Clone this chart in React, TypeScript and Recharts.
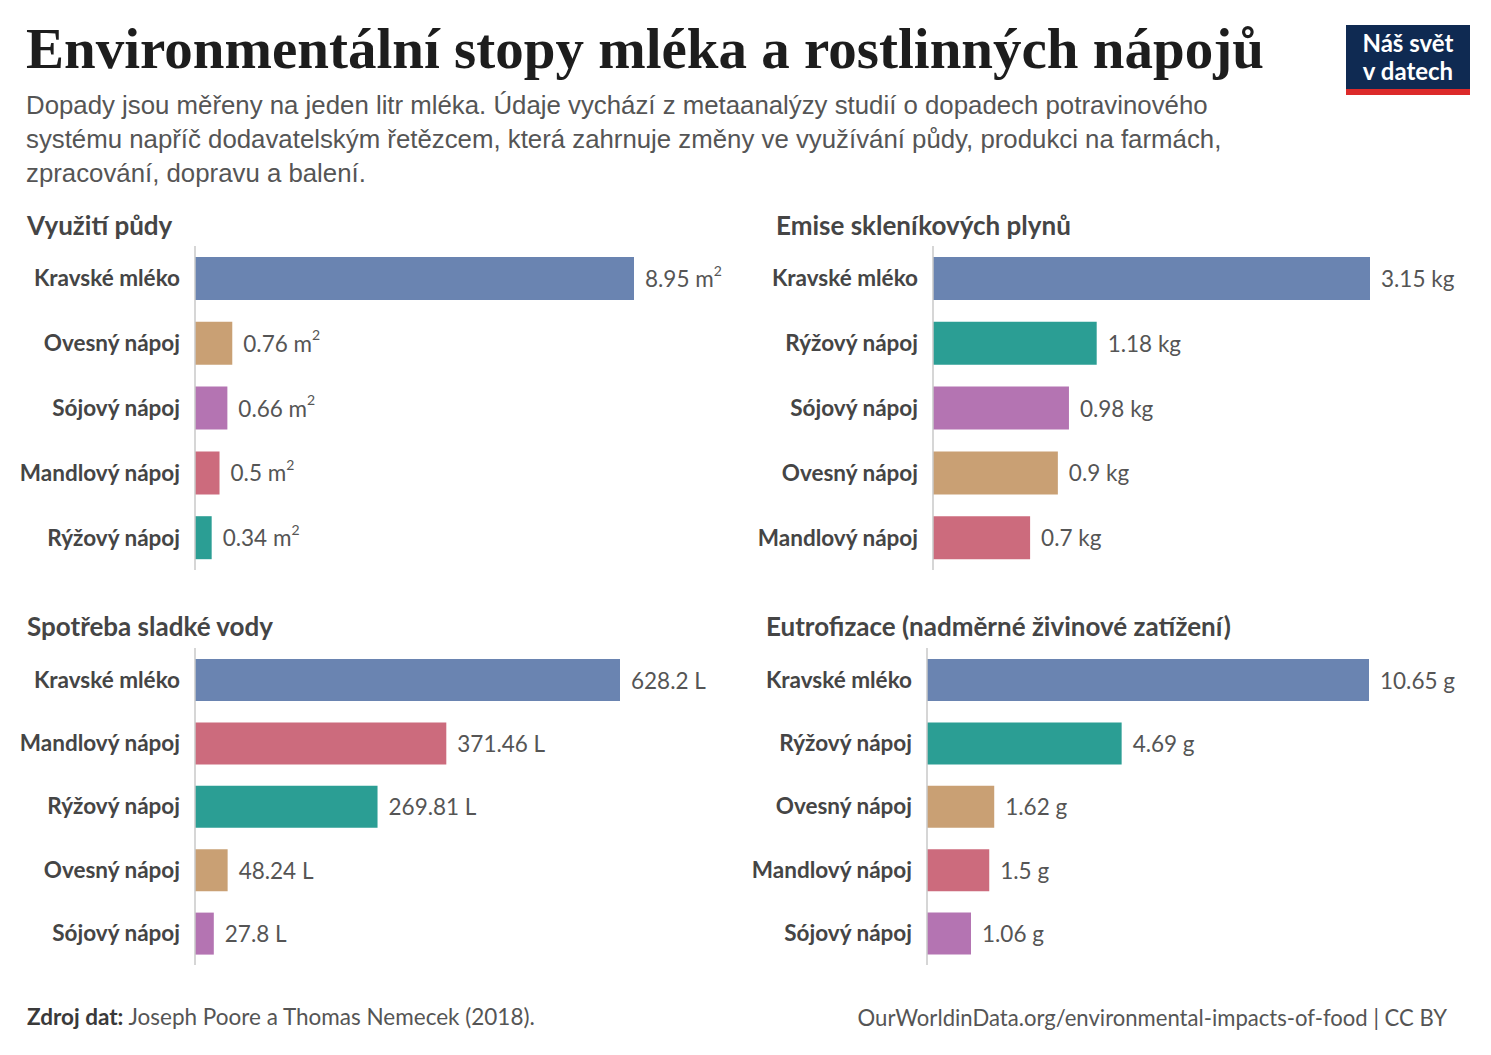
import React from "react";
import { BarChart, Bar, XAxis, YAxis, LabelList, Cell } from "recharts";

const COLORS: Record<string, string> = {
  "Kravské mléko": "#6a84b1",
  "Ovesný nápoj": "#c9a074",
  "Sójový nápoj": "#b474b2",
  "Mandlový nápoj": "#cc6b7d",
  "Rýžový nápoj": "#2b9e94",
};

const landCats = ["Kravské mléko", "Ovesný nápoj", "Sójový nápoj", "Mandlový nápoj", "Rýžový nápoj"];
const landValues = [8.95, 0.76, 0.66, 0.5, 0.34];

const ghgCats = ["Kravské mléko", "Rýžový nápoj", "Sójový nápoj", "Ovesný nápoj", "Mandlový nápoj"];
const ghgValues = [3.15, 1.18, 0.98, 0.9, 0.7];

const waterCats = ["Kravské mléko", "Mandlový nápoj", "Rýžový nápoj", "Ovesný nápoj", "Sójový nápoj"];
const waterValues = [628.2, 371.46, 269.81, 48.24, 27.8];

const eutroCats = ["Kravské mléko", "Rýžový nápoj", "Ovesný nápoj", "Mandlový nápoj", "Sójový nápoj"];
const eutroValues = [10.65, 4.69, 1.62, 1.5, 1.06];

const LABEL_FONT = "Lato, 'Noto Sans', sans-serif";

interface PanelProps {
  title: string;
  titleLeft: number;
  titleTop: number;
  cats: string[];
  values: number[];
  unit: string;
  sup?: string;
  left: number;
  top: number;
  axisWidth: number;
  plotWidth: number;
  plotHeight: number;
  barSize: number;
}

function Panel(p: PanelProps) {
  const data = p.cats.map((c, i) => ({ name: c, value: p.values[i] }));
  const rightMargin = 110;

  // value label with a real superscript for m²
  const renderLabel = (props: any) => {
    const { x, y, width, height, value } = props;
    return (
      <text
        x={Number(x) + Number(width) + 11}
        y={Number(y) + Number(height) / 2}
        dominantBaseline="central"
        fontFamily={LABEL_FONT}
        fontSize={22.5}
        fill="#555"
      >
        {`${value} ${p.unit}`}
        {p.sup && (
          <tspan fontSize={14} dy={-9}>
            {p.sup}
          </tspan>
        )}
      </text>
    );
  };

  return (
    <>
      <div
        style={{
          position: "absolute",
          left: p.titleLeft,
          top: p.titleTop,
          fontFamily: LABEL_FONT,
          fontWeight: 700,
          fontSize: 26,
          color: "#454545",
          whiteSpace: "nowrap",
        }}
      >
        {p.title}
      </div>
      <div style={{ position: "absolute", left: p.left, top: p.top }}>
        <BarChart
          width={p.axisWidth + p.plotWidth + rightMargin}
          height={p.plotHeight}
          data={data}
          layout="vertical"
          margin={{ top: 0, right: rightMargin, left: 0, bottom: 0 }}
        >
          <XAxis type="number" hide domain={[0, Math.max(...p.values)]} />
          <YAxis
            type="category"
            dataKey="name"
            width={p.axisWidth}
            tickSize={0}
            tickMargin={15}
            axisLine={{ stroke: "#c8c8c8", strokeWidth: 1.5 }}
            tickLine={false}
            interval={0}
            tick={{ fontFamily: LABEL_FONT, fontWeight: 700, fontSize: 22.5, fill: "#454545" }}
          />
          <Bar dataKey="value" barSize={p.barSize} isAnimationActive={false}>
            {data.map((d) => (
              <Cell key={d.name} fill={COLORS[d.name]} />
            ))}
            <LabelList dataKey="value" content={renderLabel} />
          </Bar>
        </BarChart>
      </div>
    </>
  );
}

export default function App() {
  return (
    <div
      style={{
        position: "relative",
        width: 1491,
        height: 1055,
        background: "#fff",
        overflow: "hidden",
      }}
    >
      <style>{`body{margin:0}`}</style>
      <div
        style={{
          position: "absolute",
          left: 26,
          top: 17,
          fontFamily: "'Liberation Serif', serif",
          fontWeight: 700,
          fontSize: 57,
          lineHeight: "64px",
          color: "#1d1d1d",
          whiteSpace: "nowrap",
        }}
      >
        Environmentální stopy mléka a rostlinných nápojů
      </div>
      <div
        style={{
          position: "absolute",
          left: 26,
          top: 88,
          width: 1300,
          fontFamily: "'Liberation Sans', Arial, sans-serif",
          fontSize: 25.8,
          lineHeight: "34px",
          color: "#555",
        }}
      >
        Dopady jsou měřeny na jeden litr mléka. Údaje vychází z metaanalýzy studií o dopadech potravinového
        <br />
        systému napříč dodavatelským řetězcem, která zahrnuje změny ve využívání půdy, produkci na farmách,
        <br />
        zpracování, dopravu a balení.
      </div>
      <div
        style={{
          position: "absolute",
          left: 1346,
          top: 25,
          width: 124,
          height: 70,
          background: "#0f2a52",
          color: "#fff",
          fontFamily: LABEL_FONT,
          fontWeight: 700,
          fontSize: 24,
          lineHeight: "28px",
          textAlign: "center",
          boxSizing: "border-box",
          paddingTop: 4,
        }}
      >
        <div>Náš svět</div>
        <div>v datech</div>
        <div style={{ position: "absolute", left: 0, bottom: 0, width: 124, height: 6, background: "#dc2a2a" }} />
      </div>

      <Panel
        title="Využití půdy"
        titleLeft={27}
        titleTop={209}
        cats={landCats}
        values={landValues}
        unit="m"
        sup="2"
        left={0}
        top={246}
        axisWidth={195}
        plotWidth={439}
        plotHeight={324}
        barSize={43}
      />
      <Panel
        title="Emise skleníkových plynů"
        titleLeft={776}
        titleTop={209}
        cats={ghgCats}
        values={ghgValues}
        unit="kg"
        left={740}
        top={246}
        axisWidth={193}
        plotWidth={437}
        plotHeight={324}
        barSize={43}
      />
      <Panel
        title="Spotřeba sladké vody"
        titleLeft={27}
        titleTop={610}
        cats={waterCats}
        values={waterValues}
        unit="L"
        left={0}
        top={648}
        axisWidth={195}
        plotWidth={425}
        plotHeight={317}
        barSize={42}
      />
      <Panel
        title="Eutrofizace (nadměrné živinové zatížení)"
        titleLeft={766}
        titleTop={610}
        cats={eutroCats}
        values={eutroValues}
        unit="g"
        left={740}
        top={648}
        axisWidth={187}
        plotWidth={442}
        plotHeight={317}
        barSize={42}
      />

      <div
        style={{
          position: "absolute",
          left: 27,
          top: 1003,
          fontFamily: LABEL_FONT,
          fontSize: 22.5,
          color: "#555",
          whiteSpace: "nowrap",
        }}
      >
        <span style={{ fontWeight: 700, color: "#3a3a3a" }}>Zdroj dat:</span> Joseph Poore a Thomas Nemecek (2018).
      </div>
      <div
        style={{
          position: "absolute",
          right: 1491 - 1447,
          top: 1004,
          fontFamily: LABEL_FONT,
          fontSize: 22.1,
          color: "#555",
          whiteSpace: "nowrap",
        }}
      >
        OurWorldinData.org/environmental-impacts-of-food | CC BY
      </div>
    </div>
  );
}
